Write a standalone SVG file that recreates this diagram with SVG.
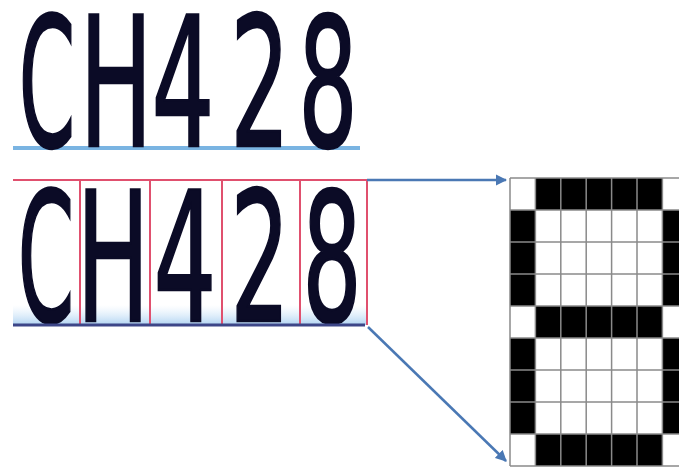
<svg xmlns="http://www.w3.org/2000/svg" width="679" height="468" viewBox="0 0 679 468">
<defs>
<style>
.ch{font-family:"DejaVu Sans","Liberation Sans",sans-serif;font-size:180px;fill:#0b0b26;stroke:#0b0b26;stroke-width:2.5;text-anchor:middle}
.red{stroke:#e0506e;stroke-width:2;fill:none}
.arr{stroke:#4a78b4;stroke-width:2.5;fill:none}
.blk{fill:#000}
.gl{stroke:#8a8a8a;stroke-width:1.5}
</style>
<marker id="ah" viewBox="0 0 10 10" refX="9" refY="5" markerWidth="4.5" markerHeight="4.5" orient="auto" markerUnits="strokeWidth">
<path d="M0,0 L10,5 L0,10 Z" fill="#4a78b4"/>
</marker>
<linearGradient id="glow" x1="0" y1="0" x2="0" y2="1">
<stop offset="0" stop-color="#cfe6fa" stop-opacity="0"/>
<stop offset="1" stop-color="#9cc8ee" stop-opacity="0.8"/>
</linearGradient>
</defs>
<rect width="679" height="468" fill="#fff"/>

<g id="plate-top">
<line x1="13" y1="148" x2="360" y2="148" stroke="#7ab4e2" stroke-width="4"/>
<text class="ch" transform="translate(47,146) scale(0.45,1)">C</text>
<text class="ch" transform="translate(116,146) scale(0.54,1)">H</text>
<text class="ch" transform="translate(183,146) scale(0.55,1)">4</text>
<text class="ch" transform="translate(260,146) scale(0.52,1)">2</text>
<text class="ch" transform="translate(328,146) scale(0.52,1)">8</text>
</g>

<g id="plate-segmented">
<rect x="13" y="305" width="354" height="20" fill="url(#glow)"/>
<text class="ch" transform="translate(46,321) scale(0.45,1)">C</text>
<text class="ch" transform="translate(113,321) scale(0.54,1)">H</text>
<text class="ch" transform="translate(185,321) scale(0.55,1)">4</text>
<text class="ch" transform="translate(260,321) scale(0.52,1)">2</text>
<text class="ch" transform="translate(332,321) scale(0.52,1)">8</text>
<line class="red" x1="13" y1="180" x2="367" y2="180"/>
<line class="red" x1="80" y1="180" x2="80" y2="325"/>
<line class="red" x1="150" y1="180" x2="150" y2="325"/>
<line class="red" x1="222" y1="180" x2="222" y2="325"/>
<line class="red" x1="300" y1="180" x2="300" y2="325"/>
<line class="red" x1="367" y1="180" x2="367" y2="325"/>
<line x1="13" y1="325" x2="365" y2="325" stroke="#3d4688" stroke-width="3"/>
</g>

<g id="connectors">
<line class="arr" x1="367" y1="180" x2="506" y2="180" marker-end="url(#ah)"/>
<line class="arr" x1="368" y1="327" x2="506" y2="461" marker-end="url(#ah)"/>
</g>

<g id="pixel-grid">
<rect class="blk" x="535.4" y="178" width="127" height="32"/>
<rect class="blk" x="535.4" y="306" width="127" height="32"/>
<rect class="blk" x="535.4" y="434" width="127" height="32"/>
<rect class="blk" x="510" y="210" width="25.4" height="96"/>
<rect class="blk" x="510" y="338" width="25.4" height="96"/>
<rect class="blk" x="662.4" y="210" width="25.4" height="96"/>
<rect class="blk" x="662.4" y="338" width="25.4" height="96"/>
<g class="gl">
<line x1="510" y1="178" x2="510" y2="466"/>
<line x1="535.4" y1="178" x2="535.4" y2="466"/>
<line x1="560.8" y1="178" x2="560.8" y2="466"/>
<line x1="586.2" y1="178" x2="586.2" y2="466"/>
<line x1="611.6" y1="178" x2="611.6" y2="466"/>
<line x1="637" y1="178" x2="637" y2="466"/>
<line x1="662.4" y1="178" x2="662.4" y2="466"/>
<line x1="510" y1="178" x2="679" y2="178"/>
<line x1="510" y1="210" x2="679" y2="210"/>
<line x1="510" y1="242" x2="679" y2="242"/>
<line x1="510" y1="274" x2="679" y2="274"/>
<line x1="510" y1="306" x2="679" y2="306"/>
<line x1="510" y1="338" x2="679" y2="338"/>
<line x1="510" y1="370" x2="679" y2="370"/>
<line x1="510" y1="402" x2="679" y2="402"/>
<line x1="510" y1="434" x2="679" y2="434"/>
<line x1="510" y1="466" x2="679" y2="466"/>
</g>
</g>
</svg>
